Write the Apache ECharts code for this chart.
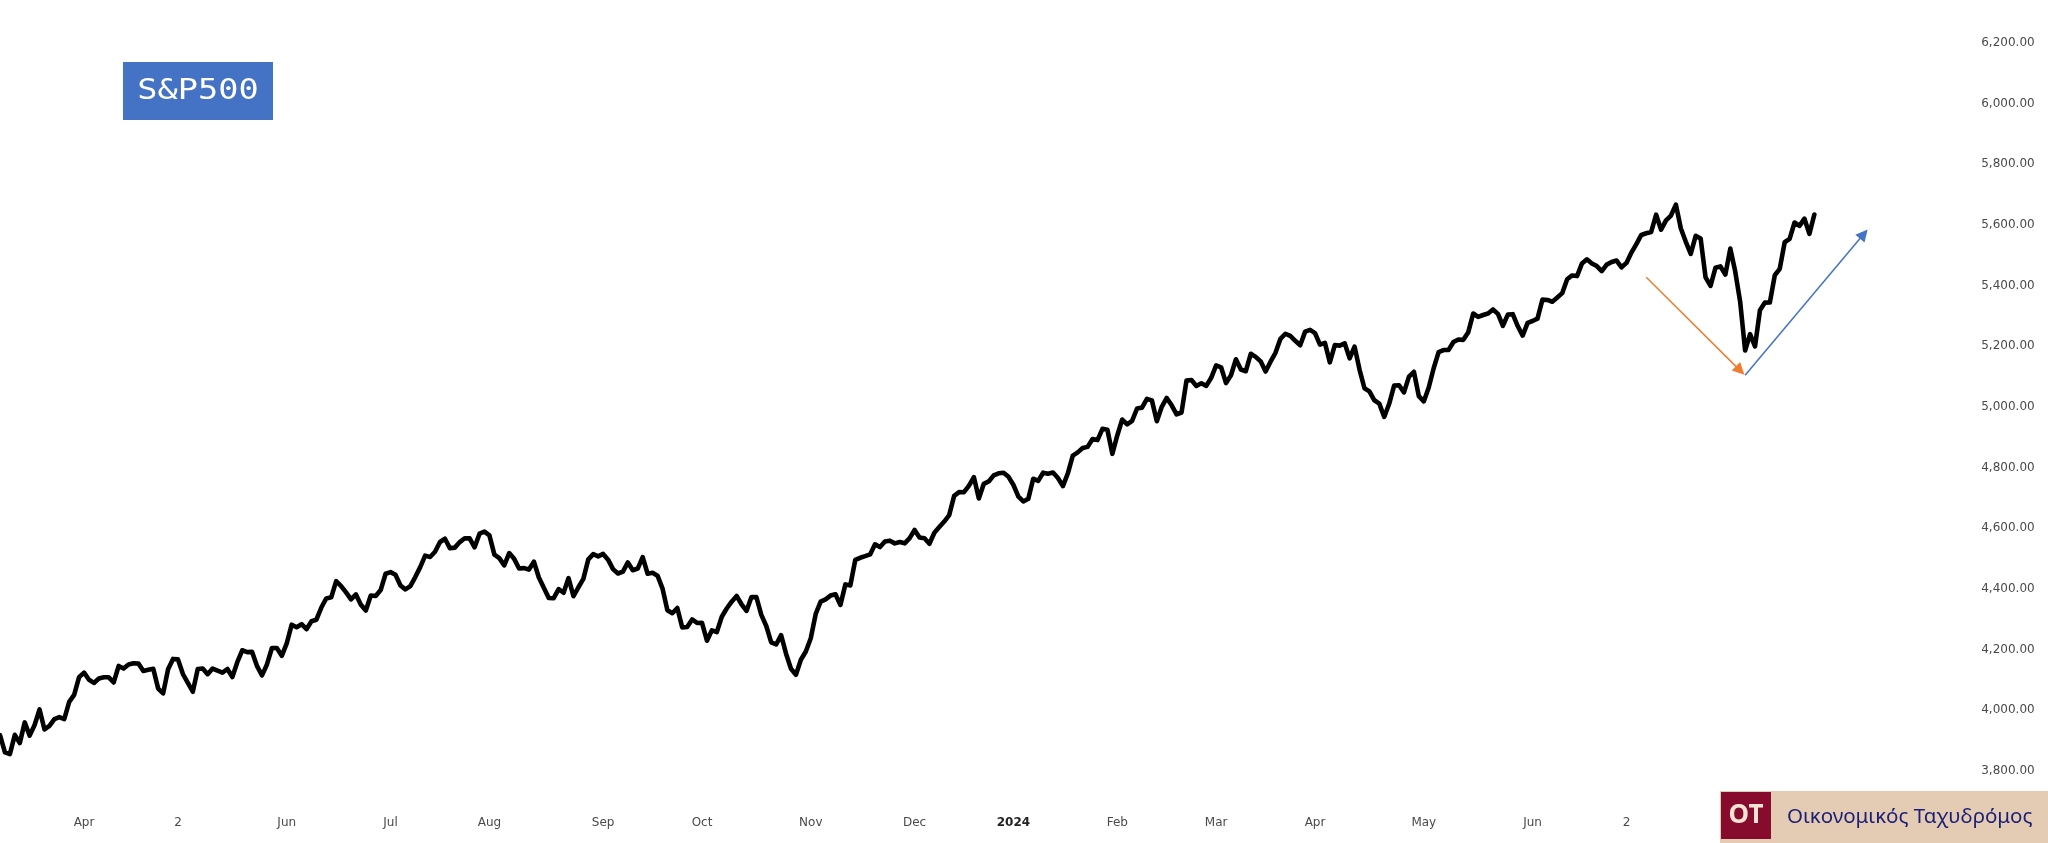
<!DOCTYPE html>
<html>
<head>
<meta charset="utf-8">
<script src="https://cdn.jsdelivr.net/npm/echarts@6/dist/echarts.min.js"></script>
<style>
html,body{margin:0;padding:0;background:#fff;}
#chart{width:2048px;height:843px;}
</style>
</head>
<body>
<div id="chart"></div>
<script>
// ---- Data: S&P 500 daily closes ----
const startDate = '2023-03-09';
const totalSlots = 398; // trading-day slots on the axis (data + empty right margin)
const holidays = ['2023-04-07','2023-05-29','2023-06-19','2023-07-04','2023-09-04','2023-11-23','2023-12-25',
  '2024-01-01','2024-01-15','2024-02-19','2024-03-29','2024-05-27','2024-06-19','2024-07-04','2024-09-02'];

const mar23 = [3918.32,3861.59,3855.76,3919.29,3891.93,3960.28,3916.64,3951.57,4002.87,3936.97,3948.72,3970.99,3977.53,3971.27,4027.81,4050.83,4109.31];
const apr23 = [4124.51,4100.60,4090.38,4105.02,4109.11,4108.94,4091.95,4146.22,4137.64,4151.32,4154.87,4154.52,4129.79,4133.52,4137.04,4071.63,4055.99,4135.35,4169.48];
const may23 = [4167.87,4119.58,4090.75,4061.22,4136.25,4138.12,4119.17,4137.64,4130.62,4124.08,4136.28,4109.90,4158.77,4198.05,4191.98,4192.63,4145.58,4115.24,4151.28,4205.45,4205.52,4179.83];
const jun23 = [4221.02,4282.37,4273.79,4283.85,4267.52,4293.93,4298.86,4338.93,4369.01,4372.59,4425.84,4409.59,4388.71,4365.69,4381.89,4348.33,4328.82,4378.41,4376.86,4396.44,4450.38];
const jul23 = [4455.59,4446.82,4411.59,4398.95,4409.53,4439.26,4472.16,4510.04,4505.42,4522.79,4554.98,4565.72,4534.87,4536.34,4554.64,4567.46,4566.75,4537.41,4582.23,4588.96];
const aug23 = [4576.73,4513.39,4501.89,4478.03,4518.44,4499.38,4467.71,4468.83,4464.05,4489.72,4437.86,4404.33,4370.36,4369.71,4399.77,4387.55,4436.01,4376.31,4405.71,4433.31,4497.63,4514.87,4507.66];
const sep23 = [4515.77,4496.83,4465.48,4451.14,4457.49,4487.46,4461.90,4467.44,4505.10,4450.32,4453.53,4443.95,4402.20,4330.00,4320.06,4337.44,4273.53,4274.51,4299.70,4288.05];
const oct23 = [4288.39,4229.45,4263.75,4258.19,4308.50,4335.66,4358.24,4376.95,4349.61,4327.78,4373.63,4373.20,4314.60,4278.00,4224.16,4217.04,4247.68,4186.77,4137.23,4117.37,4166.82,4193.80];
const nov23 = [4237.86,4317.78,4358.34,4365.98,4378.38,4382.78,4347.35,4415.24,4411.55,4495.70,4502.88,4508.24,4514.02,4547.38,4538.19,4556.62,4559.34,4550.43,4554.89,4550.58,4567.80];
const dec23 = [4594.63,4569.78,4567.18,4549.34,4585.59,4604.37,4622.44,4643.70,4707.09,4719.55,4719.19,4740.56,4768.37,4698.35,4746.75,4754.63,4774.75,4781.58,4783.35,4769.83];
const jan24 = [4742.83,4704.81,4688.68,4697.24,4763.54,4756.50,4783.45,4780.24,4783.83,4765.98,4739.21,4780.94,4839.81,4850.43,4864.60,4868.55,4894.16,4890.97,4927.93,4924.97,4845.65];
const feb24 = [4906.19,4958.61,4942.81,4954.23,4995.06,4997.91,5026.61,5021.84,4953.17,5000.62,5029.73,5005.57,4975.51,4981.80,5087.03,5088.80,5069.53,5078.18,5069.76,5096.27];
const mar24 = [5137.08,5130.95,5078.65,5104.76,5157.36,5123.69,5117.94,5175.27,5165.31,5150.48,5117.09,5149.42,5178.51,5224.62,5241.53,5234.18,5218.19,5203.58,5248.49,5254.35];
const apr24 = [5243.77,5205.81,5211.49,5147.21,5204.34,5202.39,5209.91,5160.64,5199.06,5123.41,5061.82,5051.41,5022.21,5011.12,4967.23,5010.60,5070.55,5071.63,5048.42,5099.96,5116.17,5035.69];
const may24 = [5018.39,5064.20,5127.79,5180.74,5187.70,5187.67,5214.08,5222.68,5221.42,5246.68,5308.15,5297.10,5303.27,5308.13,5321.41,5307.01,5267.84,5304.72,5306.04,5266.95,5235.48,5277.51];
const jun24 = [5283.40,5291.34,5354.03,5352.96,5346.99,5360.79,5375.32,5421.03,5433.74,5431.60,5473.23,5487.03,5473.17,5464.62,5447.87,5469.30,5477.90,5482.87,5460.48];
const jul24 = [5475.09,5509.01,5537.02,5567.19,5572.85,5576.98,5633.91,5584.54,5615.35,5631.22,5667.20,5588.27,5544.59,5505.00,5564.41,5555.74,5427.13,5399.22,5459.10,5463.54,5436.44,5522.30];
const aug24 = [5446.68,5346.56,5186.33,5240.03,5199.50,5319.31,5344.16,5344.39,5434.43,5455.21,5543.22,5554.25,5608.25,5597.12,5620.85,5570.64,5634.61];

const closes = [].concat(mar23,apr23,may23,jun23,jul23,aug23,sep23,oct23,nov23,dec23,
                         jan24,feb24,mar24,apr24,may24,jun24,jul24,aug24);

// x-axis tick labels (as shown on the chart)
const tickDates = ['2023-04-03','2023-05-01','2023-06-01','2023-07-03','2023-08-01','2023-09-01','2023-10-02','2023-11-01',
                   '2023-12-01','2024-01-02','2024-02-01','2024-03-01','2024-04-01','2024-05-01','2024-06-03','2024-07-01'];
const tickTexts = ['Apr','2','Jun','Jul','Aug','Sep','Oct','Nov','Dec','2024','Feb','Mar','Apr','May','Jun','2'];

// y-axis range
const yMin = 3800, yMax = 6200, yStep = 200;

// annotation arrows [date, value]
const arrowOrange = [['2024-07-08', 5428], ['2024-08-02', 5120]];
const arrowBlue   = [['2024-08-05', 5105], ['2024-09-09', 5570]];

// ---- build trading-day categories ----
function pad(n){return n<10?'0'+n:''+n;}
const dates = [];
{
  const p = startDate.split('-').map(Number);
  let t = Date.UTC(p[0], p[1]-1, p[2]);
  while (dates.length < totalSlots) {
    const d = new Date(t);
    const s = d.getUTCFullYear()+'-'+pad(d.getUTCMonth()+1)+'-'+pad(d.getUTCDate());
    const wd = d.getUTCDay();
    if (wd !== 0 && wd !== 6 && holidays.indexOf(s) < 0) dates.push(s);
    t += 86400000;
  }
}

const chart = echarts.init(document.getElementById('chart'), null, {renderer:'canvas'});
const pxPerDay = 4.95;
const option = {
  backgroundColor: '#ffffff',
  animation: false,
  grid: { left: -2.5, top: 43, width: pxPerDay*(totalSlots-1), height: 728, containLabel: false },
  xAxis: {
    type: 'category',
    data: dates,
    boundaryGap: false,
    axisLine: {show:false},
    axisTick: {show:false},
    splitLine: {show:false},
    axisLabel: {
      margin: 46,
      fontSize: 12,
      fontFamily: 'DejaVu Sans',
      color: '#4a4a4a',
      interval: function(idx, val){ return tickDates.indexOf(val) >= 0; },
      formatter: function(val){
        const k = tickDates.indexOf(val);
        if (k < 0) return '';
        const t = tickTexts[k];
        return t === '2024' ? '{b|' + t + '}' : t;
      },
      rich: { b: { fontWeight: 'bold', color: '#222222', fontSize: 12, fontFamily: 'DejaVu Sans' } }
    }
  },
  yAxis: {
    type: 'value',
    position: 'right',
    min: yMin, max: yMax, interval: yStep,
    axisLine: {show:false},
    axisTick: {show:false},
    splitLine: {show:false},
    axisLabel: {
      align: 'right',
      margin: 72,
      fontSize: 12,
      fontFamily: 'DejaVu Sans',
      color: '#4a4a4a',
      formatter: function(v){ return v.toLocaleString('en-US',{minimumFractionDigits:2, maximumFractionDigits:2}); }
    }
  },
  series: [{
    type: 'line',
    data: closes,
    symbol: 'none',
    showSymbol: false,
    silent: true,
    lineStyle: { color: '#000000', width: 4.6, cap: 'round', join: 'round' },
    markLine: {
      silent: true,
      animation: false,
      symbol: ['none', 'triangle'],
      symbolSize: 12,
      label: { show: false },
      emphasis: { disabled: true },
      data: [
        [ { coord: arrowOrange[0], lineStyle: { color: '#ed7d31', width: 1.5, type: 'solid' }, itemStyle:{color:'#ed7d31'} },
          { coord: arrowOrange[1] } ],
        [ { coord: arrowBlue[0], lineStyle: { color: '#4472c4', width: 1.5, type: 'solid' }, itemStyle:{color:'#4472c4'} },
          { coord: arrowBlue[1] } ]
      ]
    }
  }],
  graphic: [
    {
      type: 'group', left: 123, top: 62, silent: true,
      children: [
        { type: 'rect', shape: { x: 0, y: 0, width: 150, height: 58 }, style: { fill: '#4472c4' } },
        { type: 'text', x: 75, y: 30, scaleX: 1.2,
          style: { text: 'S&P500', align: 'center', verticalAlign: 'middle',
                   font: '28px "DejaVu Sans Mono"', fill: '#ffffff' } }
      ]
    },
    {
      type: 'group', left: 1720, top: 791, silent: true,
      children: [
        { type: 'rect', shape: { x: 0, y: 0, width: 328, height: 52 }, style: { fill: '#e3cbb4' } },
        { type: 'rect', shape: { x: 1, y: 1, width: 50, height: 47 }, style: { fill: '#870b2d' } },
        { type: 'text', x: 26, y: 25,
          style: { text: 'OT', align: 'center', verticalAlign: 'middle',
                   font: 'bold 26px "Noto Sans"', fill: '#f3e3d4' } },
        { type: 'text', x: 67, y: 26,
          style: { text: 'Οικονομικός Ταχυδρόμος', align: 'left', verticalAlign: 'middle',
                   font: '20.5px "Noto Sans"', fill: '#1c1f75' } }
      ]
    }
  ]
};
chart.setOption(option);
</script>
</body>
</html>
